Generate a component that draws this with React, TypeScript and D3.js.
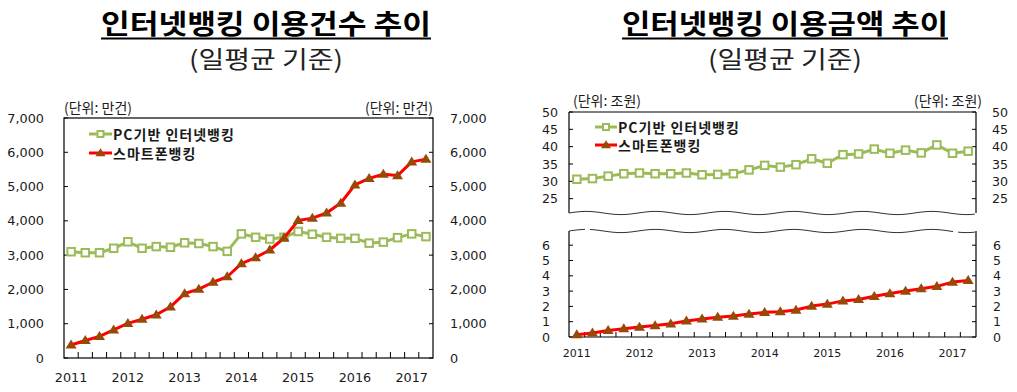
import React from "react";
import * as d3 from "d3";

// 2011Q1 ~ 2017Q2 (quarterly)
const quarters = [
  "2011Q1", "2011Q2", "2011Q3", "2011Q4",
  "2012Q1", "2012Q2", "2012Q3", "2012Q4",
  "2013Q1", "2013Q2", "2013Q3", "2013Q4",
  "2014Q1", "2014Q2", "2014Q3", "2014Q4",
  "2015Q1", "2015Q2", "2015Q3", "2015Q4",
  "2016Q1", "2016Q2", "2016Q3", "2016Q4",
  "2017Q1", "2017Q2",
];
const yearLabels = ["2011", "2012", "2013", "2014", "2015", "2016", "2017"];

// 이용건수 (만건)
const countPc = [3100, 3070, 3070, 3200, 3390, 3200, 3250, 3230, 3360, 3340, 3250, 3110, 3620,
  3520, 3470, 3520, 3690, 3610, 3520, 3490, 3490, 3350, 3380, 3510, 3620, 3540];
const countSmart = [380, 510, 630, 820, 1010, 1130, 1260, 1490, 1880, 2010, 2210, 2370, 2750,
  2930, 3150, 3500, 4010, 4080, 4230, 4520, 5050, 5240, 5360, 5320, 5720, 5800];

// 이용금액 (조원)
const amountPc = [30.6, 30.8, 31.5, 32.2, 32.4, 32.2, 32.2, 32.4, 31.9, 32.0, 32.2, 33.3, 34.6,
  34.1, 34.8, 36.5, 35.2, 37.7, 37.9, 39.3, 38.1, 39.0, 38.2, 40.5, 38.1, 38.7];
const amountSmart = [0.15, 0.26, 0.43, 0.54, 0.65, 0.75, 0.86, 1.05, 1.18, 1.29, 1.37, 1.5, 1.61,
  1.65, 1.76, 2.02, 2.15, 2.36, 2.45, 2.66, 2.84, 3.0, 3.16, 3.31, 3.59, 3.7];

const countTicks = [0, 1000, 2000, 3000, 4000, 5000, 6000, 7000];
const amountTopTicks = [25, 30, 35, 40, 45, 50];
const amountBottomTicks = [0, 1, 2, 3, 4, 5, 6];

const legendNames = ["PC기반 인터넷뱅킹", "스마트폰뱅킹"];

const GREEN = "#9bbb59";
const RED = "#ff0000";
const BROWN = "#984807";
const KR = "'Noto Sans CJK KR', 'Noto Sans', sans-serif";
const NUM = "'DejaVu Sans', Verdana, sans-serif";
const TXT = "#1a1a1a";

const fmt = d3.format(",");

function Square({ x, y, s = 7.5 }: { x: number; y: number; s?: number }) {
  return <rect x={x - s / 2} y={y - s / 2} width={s} height={s} fill="#fff" stroke={GREEN} strokeWidth={2} />;
}

function Tri({ x, y, w = 11, h = 9 }: { x: number; y: number; w?: number; h?: number }) {
  return (
    <path
      d={`M${x},${y - h * 0.6}L${x + w / 2},${y + h * 0.4}L${x - w / 2},${y + h * 0.4}Z`}
      fill={BROWN}
    />
  );
}

function Titles({ cx, title, tw, sw }: { cx: number; title: string; tw: number; sw: number }) {
  return (
    <g>
      <text x={cx} y={34} textAnchor="middle" fontFamily={KR} fontWeight="bold" fontSize={27}
        textLength={tw} lengthAdjust="spacingAndGlyphs" fill="#000">{title}</text>
      <line x1={cx - tw / 2} x2={cx + tw / 2} y1={38.5} y2={38.5} stroke="#000" strokeWidth={2} />
      <text x={cx} y={68} textAnchor="middle" fontFamily={KR} fontSize={24}
        textLength={sw} lengthAdjust="spacingAndGlyphs" fill="#222">(일평균 기준)</text>
    </g>
  );
}

function Legend({ x0, x1, y0, y1 }: { x0: number; x1: number; y0: number; y1: number }) {
  const mx = (x0 + x1) / 2;
  return (
    <g fontFamily={KR} fontWeight="bold" fontSize={14} fill={TXT}>
      <line x1={x0} x2={x1} y1={y0} y2={y0} stroke={GREEN} strokeWidth={3} />
      <Square x={mx} y={y0} s={6} />
      <text x={x1 + 1} y={y0} dominantBaseline="central" letterSpacing={1}>{legendNames[0]}</text>
      <line x1={x0} x2={x1} y1={y1} y2={y1} stroke={RED} strokeWidth={3} />
      <Tri x={mx} y={y1} w={10} h={8} />
      <text x={x1 + 1} y={y1} dominantBaseline="central" letterSpacing={1}>{legendNames[1]}</text>
    </g>
  );
}

function wave(x0: number, x1: number, y: number, phase: number) {
  const pts = d3.range(x0, x1 + 0.5, 2).map((x) => [x, y + 1.6 * Math.sin((x - x0) / 11 + phase)] as [number, number]);
  return d3.line().curve(d3.curveBasis)(pts) || "";
}

function CountChart() {
  const left = 64, right = 433, top = 118, bottom = 358;
  const x = d3.scaleBand().domain(quarters).range([left, right]);
  const y = d3.scaleLinear().domain([0, 7000]).range([bottom, top]);
  const cx = (q: string) => (x(q) as number) + x.bandwidth() / 2;
  const line = d3.line<number>().x((_, i) => cx(quarters[i])).y((v) => y(v));
  return (
    <g>
      <Titles cx={266} title="인터넷뱅킹 이용건수 추이" tw={330} sw={154} />
      <text x={left} y={113} fontFamily={KR} fontSize={14} fill={TXT}>(단위: 만건)</text>
      <text x={right} y={113} textAnchor="end" fontFamily={KR} fontSize={14} fill={TXT}>(단위: 만건)</text>
      <rect x={left} y={top} width={right - left} height={bottom - top} fill="none" stroke="#000" strokeWidth={1.2} />
      {countTicks.map((t) => (
        <g key={t}>
          <line x1={left} x2={left + 4} y1={y(t)} y2={y(t)} stroke="#000" />
          <line x1={right - 4} x2={right} y1={y(t)} y2={y(t)} stroke="#000" />
          <text x={44} y={y(t)} textAnchor="end" dominantBaseline="central" fontFamily={NUM} fontSize={12.8} fill={TXT}>{fmt(t)}</text>
          <text x={450} y={y(t)} dominantBaseline="central" fontFamily={NUM} fontSize={12.8} fill={TXT}>{fmt(t)}</text>
        </g>
      ))}
      {quarters.slice(1).map((q) => (
        <line key={q} x1={x(q)} x2={x(q)} y1={bottom} y2={bottom - 6} stroke="#000" />
      ))}
      {yearLabels.map((yr) => (
        <text key={yr} x={cx(yr + "Q1")} y={377} textAnchor="middle" dominantBaseline="central" fontFamily={NUM} fontSize={12.8} fill={TXT}>{yr}</text>
      ))}
      <path d={line(countPc) || ""} fill="none" stroke={GREEN} strokeWidth={3} strokeLinejoin="round" />
      {countPc.map((v, i) => <Square key={i} x={cx(quarters[i])} y={y(v)} />)}
      <path d={line(countSmart) || ""} fill="none" stroke={RED} strokeWidth={3} strokeLinejoin="round" />
      {countSmart.map((v, i) => <Tri key={i} x={cx(quarters[i])} y={y(v)} />)}
      <Legend x0={89} x1={112} y0={134} y1={153} />
    </g>
  );
}

function AmountChart() {
  const left = 569, right = 976;
  const topT = 112, topB = 213, botT = 231, botB = 337;
  const x = d3.scaleBand().domain(quarters).range([left, right]);
  const yTop = d3.scaleLinear().domain([20, 50]).range([216, topT]);
  const yBot = d3.scaleLinear().domain([0, 7]).range([botB, botB - 7 * 15.3]);
  const cx = (q: string) => (x(q) as number) + x.bandwidth() / 2;
  const lineTop = d3.line<number>().x((_, i) => cx(quarters[i])).y((v) => yTop(v));
  const lineBot = d3.line<number>().x((_, i) => cx(quarters[i])).y((v) => yBot(v));
  return (
    <g>
      <Titles cx={785} title="인터넷뱅킹 이용금액 추이" tw={326} sw={154} />
      <text x={573} y={106} fontFamily={KR} fontSize={14} fill={TXT}>(단위: 조원)</text>
      <text x={982} y={106} textAnchor="end" fontFamily={KR} fontSize={14} fill={TXT}>(단위: 조원)</text>
      {/* panel frames with break */}
      <g stroke="#000" strokeWidth={1.2} fill="none">
        <line x1={left} x2={right} y1={topT} y2={topT} />
        <line x1={left} x2={left} y1={topT} y2={topB} />
        <line x1={right} x2={right} y1={topT} y2={topB} />
        <path d={wave(left, right, topB, Math.PI)} strokeWidth={1} stroke="#333" />
        <path d={wave(left, right, botT, Math.PI)} strokeWidth={1} stroke="#333" />
        <line x1={left} x2={left} y1={botT} y2={botB} />
        <line x1={right} x2={right} y1={botT} y2={botB} />
        <line x1={left} x2={right} y1={botB} y2={botB} />
      </g>
      <rect x={585} y={226} width={5} height={8} fill="#fff" />
      <rect x={953} y={226} width={5} height={8} fill="#fff" />
      {amountTopTicks.map((t) => (
        <g key={t}>
          <line x1={left} x2={left + 4} y1={yTop(t)} y2={yTop(t)} stroke="#000" />
          <line x1={right - 4} x2={right} y1={yTop(t)} y2={yTop(t)} stroke="#000" />
          <text x={542} y={yTop(t)} dominantBaseline="central" fontFamily={NUM} fontSize={12.6} fill={TXT}>{t}</text>
          <text x={992} y={yTop(t)} dominantBaseline="central" fontFamily={NUM} fontSize={12.6} fill={TXT}>{t}</text>
        </g>
      ))}
      {amountBottomTicks.map((t) => (
        <g key={t}>
          <line x1={left} x2={left + 4} y1={yBot(t)} y2={yBot(t)} stroke="#000" />
          <line x1={right - 4} x2={right} y1={yBot(t)} y2={yBot(t)} stroke="#000" />
          <text x={542} y={yBot(t)} dominantBaseline="central" fontFamily={NUM} fontSize={12.6} fill={TXT}>{t}</text>
          <text x={993} y={yBot(t)} dominantBaseline="central" fontFamily={NUM} fontSize={12.6} fill={TXT}>{t}</text>
        </g>
      ))}
      {quarters.slice(1).map((q) => (
        <line key={q} x1={x(q)} x2={x(q)} y1={botB} y2={botB - 5} stroke="#000" />
      ))}
      {yearLabels.map((yr) => (
        <text key={yr} x={cx(yr + "Q1")} y={353} textAnchor="middle" dominantBaseline="central" fontFamily={NUM} fontSize={11} fill={TXT}>{yr}</text>
      ))}
      <path d={lineTop(amountPc) || ""} fill="none" stroke={GREEN} strokeWidth={3} strokeLinejoin="round" />
      {amountPc.map((v, i) => <Square key={i} x={cx(quarters[i])} y={yTop(v)} s={7.5} />)}
      <path d={lineBot(amountSmart) || ""} fill="none" stroke={RED} strokeWidth={3} strokeLinejoin="round" />
      {amountSmart.map((v, i) => <Tri key={i} x={cx(quarters[i])} y={yBot(v)} w={11} h={9} />)}
      <Legend x0={595} x1={617} y0={127} y1={145} />
    </g>
  );
}

export default function App() {
  return (
    <svg width={1017} height={392} style={{ position: "absolute", left: 0, top: 0, background: "#fff" }}>
      <rect width={1017} height={392} fill="#fff" />
      <CountChart />
      <AmountChart />
    </svg>
  );
}
